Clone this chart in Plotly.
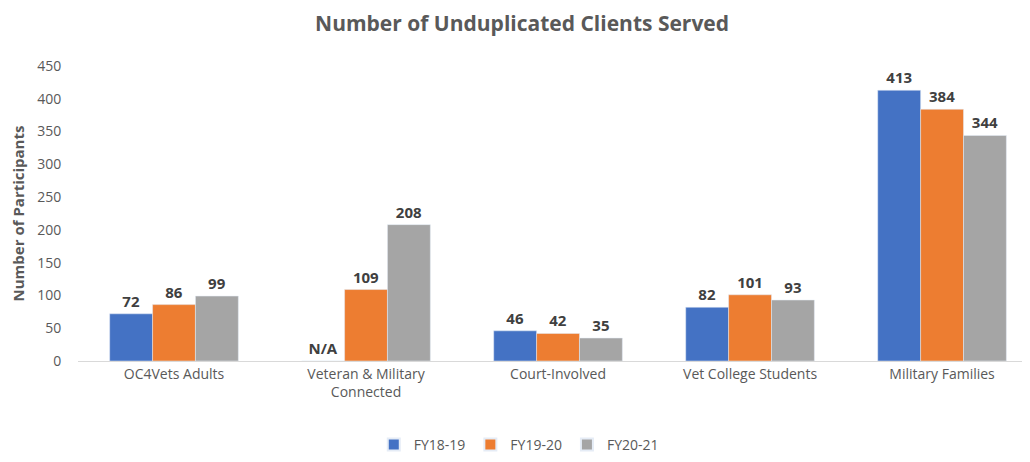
import plotly.graph_objects as go

categories = ["OC4Vets Adults", "Veteran & Military<br>Connected", "Court-Involved",
              "Vet College Students", "Military Families"]
fy1819 = [72, 0, 46, 82, 413]
fy1819_text = ["72", "N/A", "46", "82", "413"]
fy1920 = [86, 109, 42, 101, 384]
fy2021 = [99, 208, 35, 93, 344]
series_names = ["FY18-19", "FY19-20", "FY20-21"]
colors = ["#4472C4", "#ED7D31", "#A5A5A5"]

FONT = "Open Sans"
label_font = dict(family=FONT, size=15, color="#404040", weight="bold")

fig = go.Figure()
for name, vals, txt, col in [
    (series_names[0], fy1819, fy1819_text, colors[0]),
    (series_names[1], fy1920, [str(v) for v in fy1920], colors[1]),
    (series_names[2], fy2021, [str(v) for v in fy2021], colors[2]),
]:
    fig.add_trace(go.Bar(
        x=categories, y=vals, name=name, marker_color=col,
        text=txt, textposition="outside", textfont=label_font,
        cliponaxis=False,
    ))

fig.update_layout(
    width=1022, height=454,
    margin=dict(l=70, r=0, t=58, b=101),
    paper_bgcolor="white", plot_bgcolor="white",
    barmode="group", bargap=0.33, bargroupgap=0,
    title=dict(text="Number of Unduplicated Clients Served", x=0.503, xanchor="center",
               y=0.966, yanchor="middle", xref="container",
               font=dict(family=FONT, size=21, color="#595959", weight="bold")),
    font=dict(family=FONT, size=14, color="#595959"),
    showlegend=True,
    legend=dict(orientation="h", x=0.463, xanchor="center",
                y=-0.23, yanchor="top",
                font=dict(family=FONT, size=14, color="#595959"),
                traceorder="normal", itemwidth=30, itemsizing="constant"),
)
fig.update_xaxes(
    range=[-0.5, 4.458], showgrid=False, showline=True, linecolor="#D9D9D9",
    linewidth=1, ticks="", tickangle=0,
    tickfont=dict(family=FONT, size=14, color="#595959"),
)
fig.update_yaxes(
    range=[0, 450], dtick=50, showgrid=False, zeroline=False, showline=False,
    ticks="outside", ticklen=13, tickcolor="rgba(0,0,0,0)",
    tickfont=dict(family=FONT, size=14, color="#595959"),
    title=dict(text="Number of Participants", standoff=12,
               font=dict(family=FONT, size=15, color="#595959", weight="bold")),
)
fig.write_html("out.html")
